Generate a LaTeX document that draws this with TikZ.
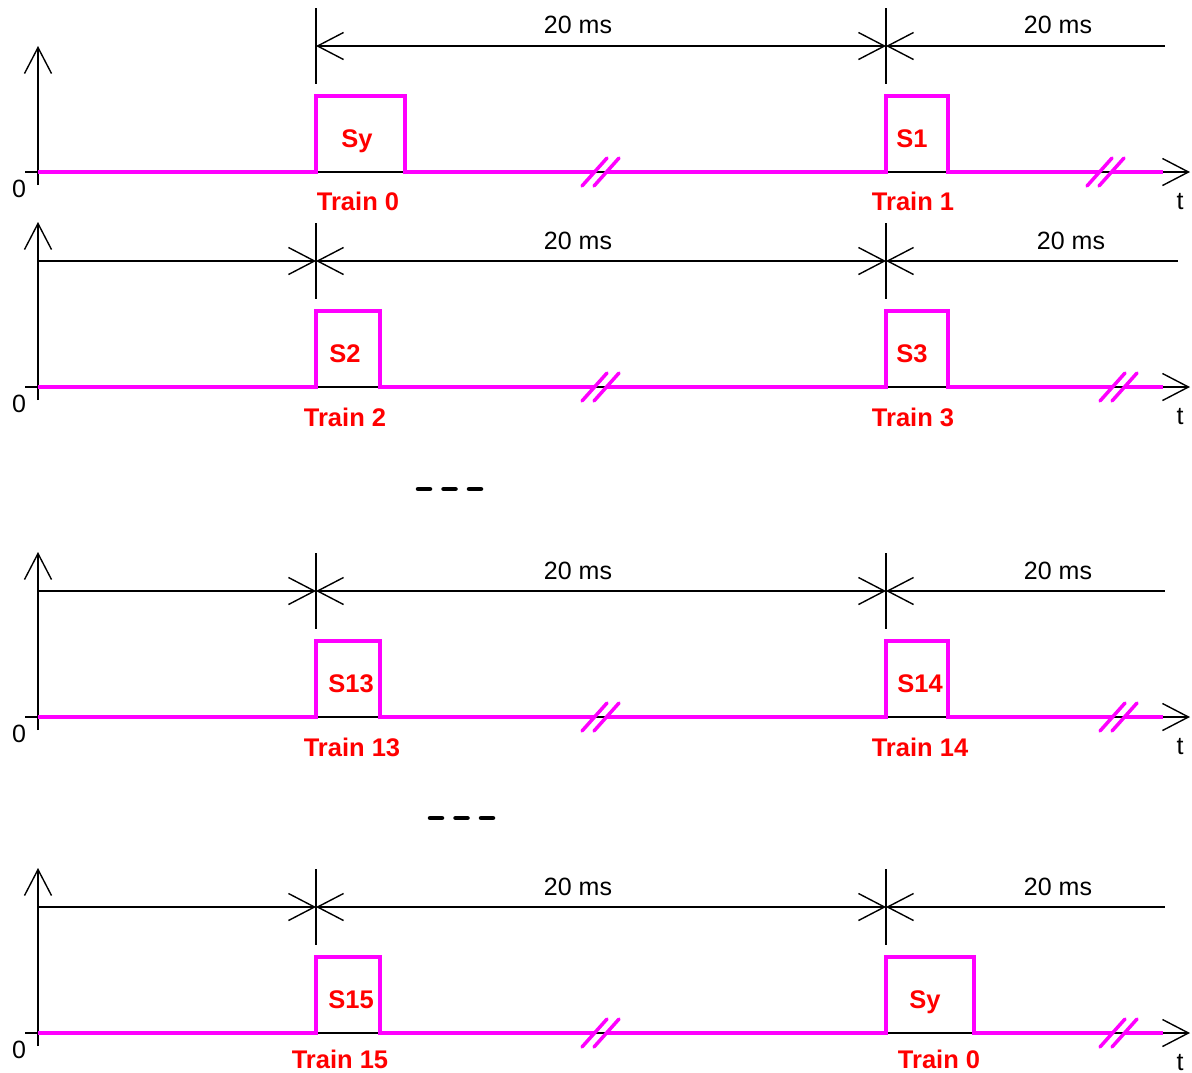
\documentclass[tikz,border=0pt]{standalone}
\usepackage{fontspec}
\setmainfont{Liberation Sans}
\usetikzlibrary{arrows.meta}
\definecolor{wavemag}{RGB}{255,0,255}
\definecolor{lblred}{RGB}{255,0,0}
\tikzset{
  vtip/.tip={Straight Barb[length=26pt,width=27pt]},
  axisline/.style={black, line width=1.4pt, -vtip},
  dimline/.style={black, line width=1.4pt},
  wave/.style={wavemag, line width=3.5pt, line join=miter},
  brk/.style={wavemag, line width=3.5pt, line cap=round},
  mslbl/.style={font=\fontsize{25}{29}\selectfont, text height=18pt, text depth=0pt, inner sep=1pt},
  siglbl/.style={text=lblred, font=\fontsize{25.5}{29}\selectfont\bfseries, text height=18pt, text depth=0pt, inner sep=1pt},
  dots/.style={black, line width=4.5pt, line cap=round, dash pattern=on 12pt off 13.5pt}
}
\begin{document}
\begin{tikzpicture}[x=1pt,y=-1pt]
\useasboundingbox (0,0) rectangle (1192,1072);
% axes, dimension lines and waveforms of the four rows
\foreach \y/\pa/\pb/\br/\top/\dy/\ds/\de in {172/405/948/1105/46/46/316/1165,
    387/380/948/1118/222/261/38/1178, 717/380/948/1118/552/591/38/1165,
    1033/380/974/1118/868/907/38/1165}{
  \draw[axisline] (25,\y) -- (1190,\y);
  \draw[axisline] (38,\y+13) -- (38,\top);
  \node[mslbl] (zero\y) at (19,\y+16) {0};
  \node[mslbl] (t\y) at (1180,\y+28) {t};
  % dimension line
  \draw[dimline] (316,\dy-38) -- (316,\dy+38);
  \draw[dimline] (886,\dy-38) -- (886,\dy+38);
  \draw[dimline, vtip-vtip] (316,\dy) -- (886,\dy);
  \draw[dimline, vtip-] (886,\dy) -- (\de,\dy);
  \ifnum\ds<316
    \draw[dimline, -vtip] (\ds,\dy) -- (316,\dy);
  \fi
  % signal
  \draw[wave] (38,\y) -- (316,\y) -- (316,\y-76) -- (\pa,\y-76) -- (\pa,\y) -- (595,\y);
  \draw[wave] (607,\y) -- (886,\y) -- (886,\y-76) -- (\pb,\y-76) -- (\pb,\y) -- (\br-5,\y);
  \draw[wave] (\br+7,\y) -- (1163,\y);
  \foreach \c in {600,\br}{
    \draw[brk] (\c-18,\y+14) -- (\c+7,\y-14);
    \draw[brk] (\c-6,\y+14) -- (\c+19,\y-14);
  }
}
% row 1
\node[mslbl] (msa1) at (578,24) {20 ms};
\node[mslbl] (msa2) at (1058,24) {20 ms};
\node[siglbl] (sya) at (357,138) {Sy};
\node[siglbl] (s1) at (912,138) {S1};
\node[siglbl] (tr0a) at (358,201) {Train 0};
\node[siglbl] (tr1) at (913,201) {Train 1};
% row 2
\node[mslbl] (msb1) at (578,240) {20 ms};
\node[mslbl] (msb2) at (1071,240) {20 ms};
\node[siglbl] (s2) at (345,353) {S2};
\node[siglbl] (s3) at (912,353) {S3};
\node[siglbl] (tr2) at (345,417) {Train 2};
\node[siglbl] (tr3) at (913,417) {Train 3};
\draw[dots] (418,489) -- (482,489);
% row 3
\node[mslbl] (msc1) at (578,570) {20 ms};
\node[mslbl] (msc2) at (1058,570) {20 ms};
\node[siglbl] (s13) at (351,683) {S13};
\node[siglbl] (s14) at (920,683) {S14};
\node[siglbl] (tr13) at (352,747) {Train 13};
\node[siglbl] (tr14) at (920,747) {Train 14};
\draw[dots] (430,818) -- (494,818);
% row 4
\node[mslbl] (msd1) at (578,886) {20 ms};
\node[mslbl] (msd2) at (1058,886) {20 ms};
\node[siglbl] (s15) at (351,999) {S15};
\node[siglbl] (syd) at (925,999) {Sy};
\node[siglbl] (tr15) at (340,1059) {Train 15};
\node[siglbl] (tr0d) at (939,1059) {Train 0};
\end{tikzpicture}
\end{document}
